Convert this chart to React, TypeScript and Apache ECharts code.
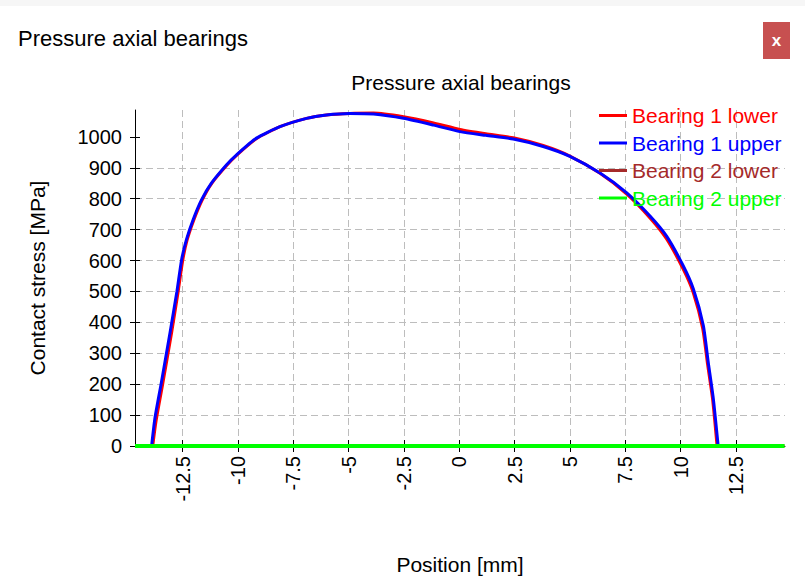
import React, { useEffect, useRef } from "react";
import * as echarts from "echarts";

const FONT = "'Liberation Sans', Arial, sans-serif";

const seriesNames = ["Bearing 1 lower", "Bearing 1 upper", "Bearing 2 lower", "Bearing 2 upper"];
const seriesColors = ["#ff0000", "#0000ff", "#a52a2a", "#00ff00"];
const seriesWidths = [3, 3, 3, 4];

const posB1Lower = [-13.85, -13.7, -13.4, -13.0, -12.72, -12.5, -12.3, -12.0, -11.62, -11.18, -10.5, -10.05, -9.15, -8.1, -6.9, -6.0, -4.94, -3.87, -2.52, -1.16, 0.03, 1.2, 2.44, 3.79, 5.0, 6.36, 7.57, 8.62, 9.37, 10.12, 10.58, 11.0, 11.22, 11.45, 11.65];
const stressB1Lower = [0, 80, 200, 365, 490, 598, 665, 730, 795, 850, 908, 941, 995, 1033, 1060, 1071, 1076, 1077, 1065, 1045, 1024, 1010, 997, 972, 938, 882, 815, 738, 670, 572, 495, 380, 265, 150, 0];

const posB1Upper = [-13.9, -13.75, -13.45, -13.06, -12.76, -12.54, -12.32, -12.02, -11.64, -11.19, -10.51, -10.06, -9.16, -8.1, -6.9, -6.0, -4.94, -3.87, -2.52, -1.16, 0.03, 1.2, 2.44, 3.79, 5.0, 6.36, 7.57, 8.62, 9.37, 10.12, 10.58, 11.03, 11.25, 11.48, 11.7];
const stressB1Upper = [0, 90, 209, 370, 498, 604, 669, 733, 797, 851, 910, 942, 996, 1033, 1060, 1071, 1076, 1074, 1060, 1038, 1017, 1005, 993, 969, 937, 883, 819, 744, 679, 583, 508, 390, 272, 154, 0];

const posB2Lower = [-14.65, 14.7];
const stressB2Lower = [0, 0];
const posB2Upper = [-14.65, 14.7];
const stressB2Upper = [0, 0];

const xTicks = [-12.5, -10, -7.5, -5, -2.5, 0, 2.5, 5, 7.5, 10, 12.5];
const yTicks = [0, 100, 200, 300, 400, 500, 600, 700, 800, 900, 1000];
const X_MIN = -14.65;
const X_MAX = 14.72;
const Y_MIN = 0;
const Y_MAX = 1087;

const zip = (xs: number[], ys: number[]) => xs.map((x, i) => [x, ys[i]]);

export default function App() {
  const ref = useRef<HTMLDivElement>(null);
  useEffect(() => {
    if (!ref.current) return;
    const chart = echarts.init(ref.current, null, { renderer: "svg" });
    const datasets = [
      zip(posB1Lower, stressB1Lower),
      zip(posB1Upper, stressB1Upper),
      zip(posB2Lower, stressB2Lower),
      zip(posB2Upper, stressB2Upper),
    ];
    const grid = "#bdbdbd";
    chart.setOption({
      animation: false,
      backgroundColor: "#ffffff",
      textStyle: { fontFamily: FONT },
      title: {
        text: "Pressure axial bearings",
        left: 456,
        textAlign: "center",
        top: 67,
        textStyle: { fontSize: 21, fontWeight: "normal", color: "#000", fontFamily: FONT },
      },
      graphic: [
        { type: "rect", shape: { x: 0, y: 0, width: 805, height: 6 }, style: { fill: "#f6f6f6" }, silent: true },
        {
          type: "text",
          x: 18,
          y: 38,
          style: { text: "Pressure axial bearings", fontSize: 22, fontFamily: FONT, fill: "#000", verticalAlign: "middle" },
        },
        { type: "rect", shape: { x: 763, y: 22, width: 27, height: 37 }, style: { fill: "#c75050" } },
        {
          type: "text",
          x: 776.5,
          y: 40,
          style: { text: "x", fontSize: 17, fontWeight: "bold", fontFamily: FONT, fill: "#fff", align: "center", verticalAlign: "middle" },
        },
      ],
      legend: {
        orient: "vertical",
        left: 594,
        top: 100,
        itemWidth: 28,
        itemHeight: 3,
        itemGap: 6.5,
        icon: "rect",
        textStyle: { fontSize: 21, fontFamily: FONT },
        data: seriesNames.map((n, i) => ({ name: n, textStyle: { color: seriesColors[i] } })),
      },
      grid: { left: 135, right: 20, top: 110, bottom: 131, containLabel: false },
      xAxis: [
        {
          type: "value",
          min: X_MIN,
          max: X_MAX,
          name: "Position [mm]",
          nameLocation: "middle",
          nameGap: 108,
          nameTextStyle: { fontSize: 21, color: "#000", fontFamily: FONT },
          axisLine: { show: true, onZero: false, lineStyle: { color: "#000", width: 1 } },
          axisTick: { show: true, length: 6, lineStyle: { color: "#000" }, customValues: xTicks },
          axisLabel: {
            customValues: xTicks,
            rotate: 90,
            margin: 10,
            fontSize: 20,
            color: "#000",
            fontFamily: FONT,
            formatter: (v: number) => String(v),
          },
          splitLine: { show: true, lineStyle: { color: grid, type: [7, 4], width: 1 } },
        },
        {
          type: "value",
          min: X_MIN,
          max: X_MAX,
          position: "bottom",
          axisLine: { show: false, onZero: false },
          axisTick: { show: true, inside: true, length: 6, lineStyle: { color: "#000" }, customValues: xTicks },
          axisLabel: { show: false },
          splitLine: { show: false },
        },
      ],
      yAxis: [
        {
          type: "value",
          min: Y_MIN,
          max: Y_MAX,
          interval: 100,
          name: "Contact stress [MPa]",
          nameLocation: "middle",
          nameGap: 87,
          nameTextStyle: { fontSize: 21, color: "#000", fontFamily: FONT },
          axisLine: { show: true, onZero: false, lineStyle: { color: "#000", width: 1 } },
          axisTick: { show: true, length: 5, lineStyle: { color: "#000" }, customValues: yTicks },
          axisLabel: {
            customValues: yTicks,
            margin: 13,
            fontSize: 20,
            color: "#000",
            fontFamily: FONT,
            formatter: (v: number) => String(v),
          },
          splitLine: { show: true, showMaxLine: false, lineStyle: { color: grid, type: [7, 4], width: 1 } },
        },
        {
          type: "value",
          min: Y_MIN,
          max: Y_MAX,
          interval: 100,
          position: "left",
          axisLine: { show: false, onZero: false },
          axisTick: { show: true, inside: true, length: 5, lineStyle: { color: "#000" }, customValues: yTicks },
          axisLabel: { show: false },
          splitLine: { show: false },
        },
      ],
      series: seriesNames.map((n, i) => ({
        name: n,
        type: "line",
        xAxisIndex: 0,
        yAxisIndex: 0,
        data: datasets[i],
        showSymbol: false,
        symbol: "none",
        smooth: 0.2,
        color: seriesColors[i],
        lineStyle: { color: seriesColors[i], width: seriesWidths[i] },
        silent: true,
      })),
    });
    return () => chart.dispose();
  }, []);
  return (
    <div
      ref={ref}
      style={{ position: "absolute", left: 0, top: 0, width: 805, height: 580, background: "#fff" }}
    />
  );
}
